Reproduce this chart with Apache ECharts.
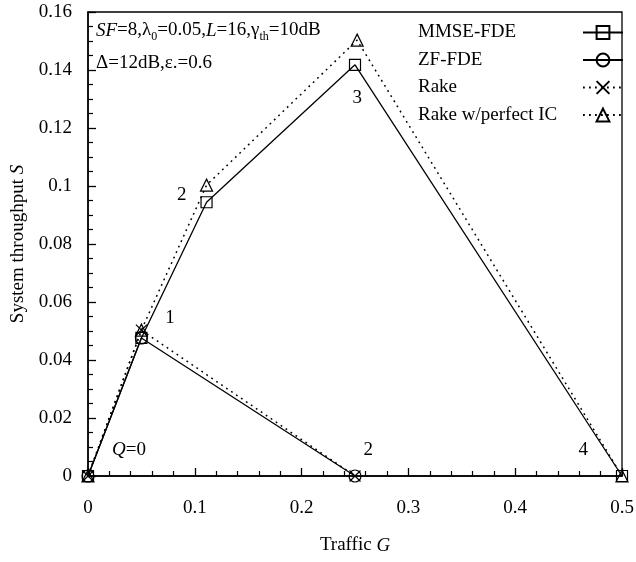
<!DOCTYPE html>
<html>
<head>
<meta charset="utf-8">
<script src="https://cdn.jsdelivr.net/npm/echarts@6/dist/echarts.min.js"></script>
<style>
html, body { margin: 0; padding: 0; background: #fff; }
#main { width: 636px; height: 562px; }
</style>
</head>
<body>
<div id="main"></div>
<script>
// values
var G_MMSE = [0, 0.05, 0.111, 0.25, 0.5];
var S_MMSE = [0, 0.0476, 0.0944, 0.1418, 0];
var G_ZF = [0, 0.05, 0.25];
var S_ZF = [0, 0.0476, 0];
var G_RAKE = [0, 0.05, 0.25];
var S_RAKE = [0, 0.0503, 0];
var G_IC = [0, 0.05, 0.111, 0.252, 0.5];
var S_IC = [0, 0.0503, 0.1003, 0.1503, 0];

// Q labels next to the points
var NOTE_G = [0.0384, 0.0768, 0.0877, 0.2522, 0.2625, 0.4638];
var NOTE_S = [0.009, 0.0544, 0.0969, 0.1302, 0.009, 0.009];
var NOTE_TEXT = ['{i|Q}=0', '1', '2', '3', '2', '4'];

var SERIES_NAMES = ['MMSE-FDE', 'ZF-FDE', 'Rake', 'Rake w/perfect IC'];

var FONT = 'Liberation Serif';

function pairs(xs, ys) {
	var out = [];
	for (var i = 0; i < xs.length; i++) {
		out.push([xs[i], ys[i]]);
	}
	return out;
}

var notes = [];
for (var i = 0; i < NOTE_G.length; i++) {
	notes.push([NOTE_G[i], NOTE_S[i], NOTE_TEXT[i]]);
}

function lineSeries(name, data, symbol, size, dashed) {
	return {
		name : name,
		type : 'line',
		data : data,
		symbol : symbol,
		symbolSize : size,
		showAllSymbol : true,
		clip : false,
		lineStyle : {
			color : '#000',
			width : dashed ? 1.5 : 1.3,
			type : dashed ? [1.8, 4.2] : 'solid'
		},
		itemStyle : {
			color : 'rgba(0,0,0,0)',
			borderColor : '#000',
			borderWidth : 1.2
		},
		emphasis : { disabled : true }
	};
}

var myChart = echarts.init(document.getElementById('main'));
var option = {
	animation : false,
	backgroundColor : '#fff',
	textStyle : { fontFamily : FONT },
	grid : {
		left : 88,
		right : 14,
		top : 12,
		bottom : 86,
		show : true,
		borderColor : '#000',
		borderWidth : 1.3,
		outerBoundsMode : 'none'
	},
	legend : {
		orient : 'vertical',
		left : 418,
		top : 23,
		padding : 0,
		align : 'right',
		itemWidth : 40,
		itemHeight : 16,
		itemGap : 8.5,
		selectedMode : false,
		data : SERIES_NAMES,
		formatter : function(n) {
			return '{t|' + n + '}';
		},
		textStyle : {
			color : '#000',
			fontFamily : FONT,
			fontSize : 19,
			rich : {
				t : { width : 160, align : 'left', fontFamily : FONT, fontSize : 19, color : '#000' }
			}
		}
	},
	graphic : [ {
		type : 'text',
		left : 96,
		top : 14,
		style : {
			text : '{i|SF}=8,λ{s|0}=0.05,{i|L}=16,γ{s|th}=10dB\nΔ=12dB,ε.=0.6',
			fill : '#000',
			font : '19px "Liberation Serif"',
			lineHeight : 33,
			rich : {
				i : { fontFamily : FONT, fontSize : 19, fontStyle : 'italic', lineHeight : 33 },
				s : { fontFamily : FONT, fontSize : 12, verticalAlign : 'bottom', padding : [0, 0, 4, 0], lineHeight : 33 }
			}
		}
	} ],
	xAxis : {
		type : 'value',
		min : 0,
		max : 0.5,
		interval : 0.1,
		name : 'Traffic {i|G}',
		nameLocation : 'middle',
		nameGap : 60,
		nameTextStyle : {
			color : '#000',
			fontFamily : FONT,
			fontSize : 19,
			rich : { i : { fontFamily : FONT, fontSize : 19, fontStyle : 'italic' } }
		},
		axisLine : { lineStyle : { color : '#000', width : 1.5 } },
		axisTick : { inside : true, length : 8, lineStyle : { color : '#000', width : 1.3 } },
		minorTick : { show : true, splitNumber : 5, length : 5, lineStyle : { color : '#000', width : 1.2 } },
		axisLabel : { color : '#000', fontFamily : FONT, fontSize : 19, margin : 23 },
		splitLine : { show : false }
	},
	yAxis : {
		type : 'value',
		min : 0,
		max : 0.16,
		interval : 0.02,
		name : 'System throughput {i|S}',
		nameLocation : 'middle',
		nameGap : 60,
		nameTextStyle : {
			color : '#000',
			fontFamily : FONT,
			fontSize : 19,
			rich : { i : { fontFamily : FONT, fontSize : 19, fontStyle : 'italic' } }
		},
		axisLine : { lineStyle : { color : '#000', width : 1.5 } },
		axisTick : { inside : true, length : 8, lineStyle : { color : '#000', width : 1.3 } },
		minorTick : { show : true, splitNumber : 4, length : 5, lineStyle : { color : '#000', width : 1.2 } },
		axisLabel : { color : '#000', fontFamily : FONT, fontSize : 19, margin : 16 },
		splitLine : { show : false }
	},
	series : [
		lineSeries('Rake', pairs(G_RAKE, S_RAKE), 'path://M0,0L10,10M10,0L0,10', 11, true),
		lineSeries('Rake w/perfect IC', pairs(G_IC, S_IC), 'triangle', 12, true),
		lineSeries('ZF-FDE', pairs(G_ZF, S_ZF), 'circle', 12, false),
		lineSeries('MMSE-FDE', pairs(G_MMSE, S_MMSE), 'rect', 11, false),
		{
			name : 'notes',
			type : 'scatter',
			data : notes,
			symbolSize : 1,
			itemStyle : { color : 'rgba(0,0,0,0)', opacity : 1 },
			silent : true,
			label : {
				show : true,
				position : 'inside',
				color : '#000',
				opacity : 1,
				fontFamily : FONT,
				fontSize : 19,
				formatter : function(p) {
					return p.data[2];
				},
				rich : { i : { fontFamily : FONT, fontSize : 19, fontStyle : 'italic', color : '#000' } }
			}
		}
	]
};
myChart.setOption(option);
</script>
</body>
</html>
